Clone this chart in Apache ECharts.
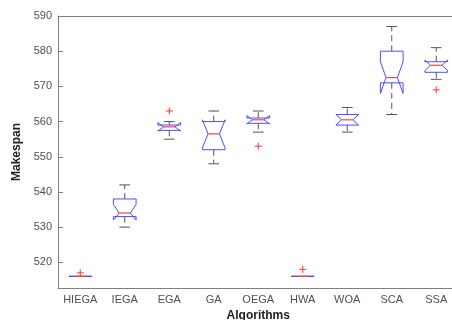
<!DOCTYPE html>
<html>
<head>
<meta charset="utf-8">
<script src="https://cdn.jsdelivr.net/npm/echarts@6/dist/echarts.min.js"></script>
<style>
  html, body { margin: 0; padding: 0; background: #fff; }
  #main { width: 452px; height: 320px; }
</style>
</head>
<body>
<div id="main"></div>
<script>
// 类别与箱线图统计量
var categories = ['HIEGA', 'IEGA', 'EGA', 'GA', 'OEGA', 'HWA', 'WOA', 'SCA', 'SSA']
var whiskerLow = [516, 530, 555, 548, 557, 516, 557, 562, 572]
var q1Vals = [516, 533, 557.5, 552, 559.5, 516, 559, 571, 574]
var medianVals = [516, 534, 558.5, 556.5, 560.5, 516, 560.5, 572.5, 576]
var q3Vals = [516, 538, 559, 560, 561, 516, 562, 580, 577]
var whiskerHigh = [516, 542, 560, 563, 563, 516, 564, 587, 581]
var notchLow = [516, 532, 557.3, 552.5, 559.3, 516, 559, 568, 574.5]
var notchHigh = [516, 536.5, 559.7, 560.5, 561.7, 516, 562, 577, 577.5]
// 离群点 [类别序号, 值]
var outliers = [[0, 517], [2, 563], [4, 553], [5, 518], [8, 569]]
var yTicks = [520, 530, 540, 550, 560, 570, 580, 590]

var axisGray = '#7f7f7f'
var labelColor = '#505050'
var fontName = '"Liberation Sans", Arial, sans-serif'

var boxData = categories.map(function (c, i) {
  return [i, whiskerLow[i], q1Vals[i], notchLow[i], medianVals[i], notchHigh[i], q3Vals[i], whiskerHigh[i]]
})

function renderBox(params, api) {
  var idx = api.value(0)
  var band = api.size([1, 0])[0]
  var half = band * 0.255
  var nHalf = half / 2
  var capHalf = band * 0.12
  function pt(v) { return api.coord([idx, v]) }
  var cx = pt(api.value(4))[0]
  var yWl = pt(api.value(1))[1]
  var yQ1 = pt(api.value(2))[1]
  var yNl = pt(api.value(3))[1]
  var yMed = pt(api.value(4))[1]
  var yNh = pt(api.value(5))[1]
  var yQ3 = pt(api.value(6))[1]
  var yWh = pt(api.value(7))[1]
  var l = cx - half, r = cx + half
  var whiskerStyle = { stroke: '#555', lineWidth: 1, lineDash: [6, 4] }
  var capStyle = { stroke: '#555', lineWidth: 1 }
  var children = []
  if (yWh < yQ3) {
    children.push({ type: 'line', shape: { x1: cx, y1: yQ3, x2: cx, y2: yWh }, style: whiskerStyle })
  }
  if (yWl > yQ1) {
    children.push({ type: 'line', shape: { x1: cx, y1: yQ1, x2: cx, y2: yWl }, style: whiskerStyle })
  }
  children.push({ type: 'line', shape: { x1: cx - capHalf, y1: yWh, x2: cx + capHalf, y2: yWh }, style: capStyle })
  children.push({ type: 'line', shape: { x1: cx - capHalf, y1: yWl, x2: cx + capHalf, y2: yWl }, style: capStyle })
  children.push({
    type: 'polyline',
    shape: {
      points: [
        [l, yQ1], [l, yNl], [cx - nHalf, yMed], [l, yNh], [l, yQ3],
        [r, yQ3], [r, yNh], [cx + nHalf, yMed], [r, yNl], [r, yQ1], [l, yQ1]
      ]
    },
    style: { stroke: '#4d4dff', fill: null, lineWidth: 1 }
  })
  children.push({ type: 'line', shape: { x1: cx - nHalf, y1: yMed, x2: cx + nHalf, y2: yMed }, style: { stroke: '#ff4040', lineWidth: 1.2 } })
  return { type: 'group', children: children }
}

function renderPlus(params, api) {
  var p = api.coord([api.value(0), api.value(1)])
  var s = 3.5
  var st = { stroke: '#ff3030', lineWidth: 1 }
  return {
    type: 'group',
    children: [
      { type: 'line', shape: { x1: p[0] - s, y1: p[1], x2: p[0] + s, y2: p[1] }, style: st },
      { type: 'line', shape: { x1: p[0], y1: p[1] - s, x2: p[0], y2: p[1] + s }, style: st }
    ]
  }
}

var myChart = echarts.init(document.getElementById('main'))
var option = {
  backgroundColor: '#fff',
  animation: false,
  grid: {
    left: 58,
    right: -6.5,
    top: 16,
    bottom: 32,
    outerBoundsMode: 'none'
  },
  xAxis: [
    {
      type: 'category',
      data: categories,
      boundaryGap: true,
      name: 'Algorithms',
      nameLocation: 'middle',
      nameGap: 16,
      nameTextStyle: { fontFamily: fontName, fontWeight: 'bold', fontSize: 12, color: '#222' },
      axisLine: { lineStyle: { color: axisGray } },
      axisTick: { inside: true, length: 4, alignWithLabel: true, lineStyle: { color: axisGray } },
      axisLabel: { margin: 6, fontFamily: fontName, fontSize: 11, color: labelColor },
      splitLine: { show: false }
    },
    {
      type: 'category',
      data: categories,
      position: 'top',
      boundaryGap: true,
      axisLine: { lineStyle: { color: axisGray } },
      axisTick: { inside: true, length: 4, alignWithLabel: true, lineStyle: { color: axisGray } },
      axisLabel: { show: false },
      splitLine: { show: false }
    }
  ],
  yAxis: [
    {
      type: 'value',
      min: 512.7,
      max: 590,
      name: 'Makespan',
      nameLocation: 'middle',
      nameGap: 29,
      nameTextStyle: { fontFamily: fontName, fontWeight: 'bold', fontSize: 12, color: '#222' },
      axisLine: { show: true, lineStyle: { color: axisGray } },
      axisTick: { show: true, inside: true, length: 5, customValues: yTicks, lineStyle: { color: axisGray } },
      axisLabel: { margin: 6, fontFamily: fontName, fontSize: 11, color: labelColor, customValues: yTicks },
      splitLine: { show: false }
    }
  ],
  series: [
    {
      type: 'custom',
      renderItem: renderBox,
      data: boxData,
      encode: { x: 0, y: [1, 2, 3, 4, 5, 6, 7] },
      z: 2
    },
    {
      type: 'custom',
      renderItem: renderPlus,
      data: outliers,
      encode: { x: 0, y: 1 },
      z: 3
    }
  ]
}
myChart.setOption(option)
</script>
</body>
</html>
